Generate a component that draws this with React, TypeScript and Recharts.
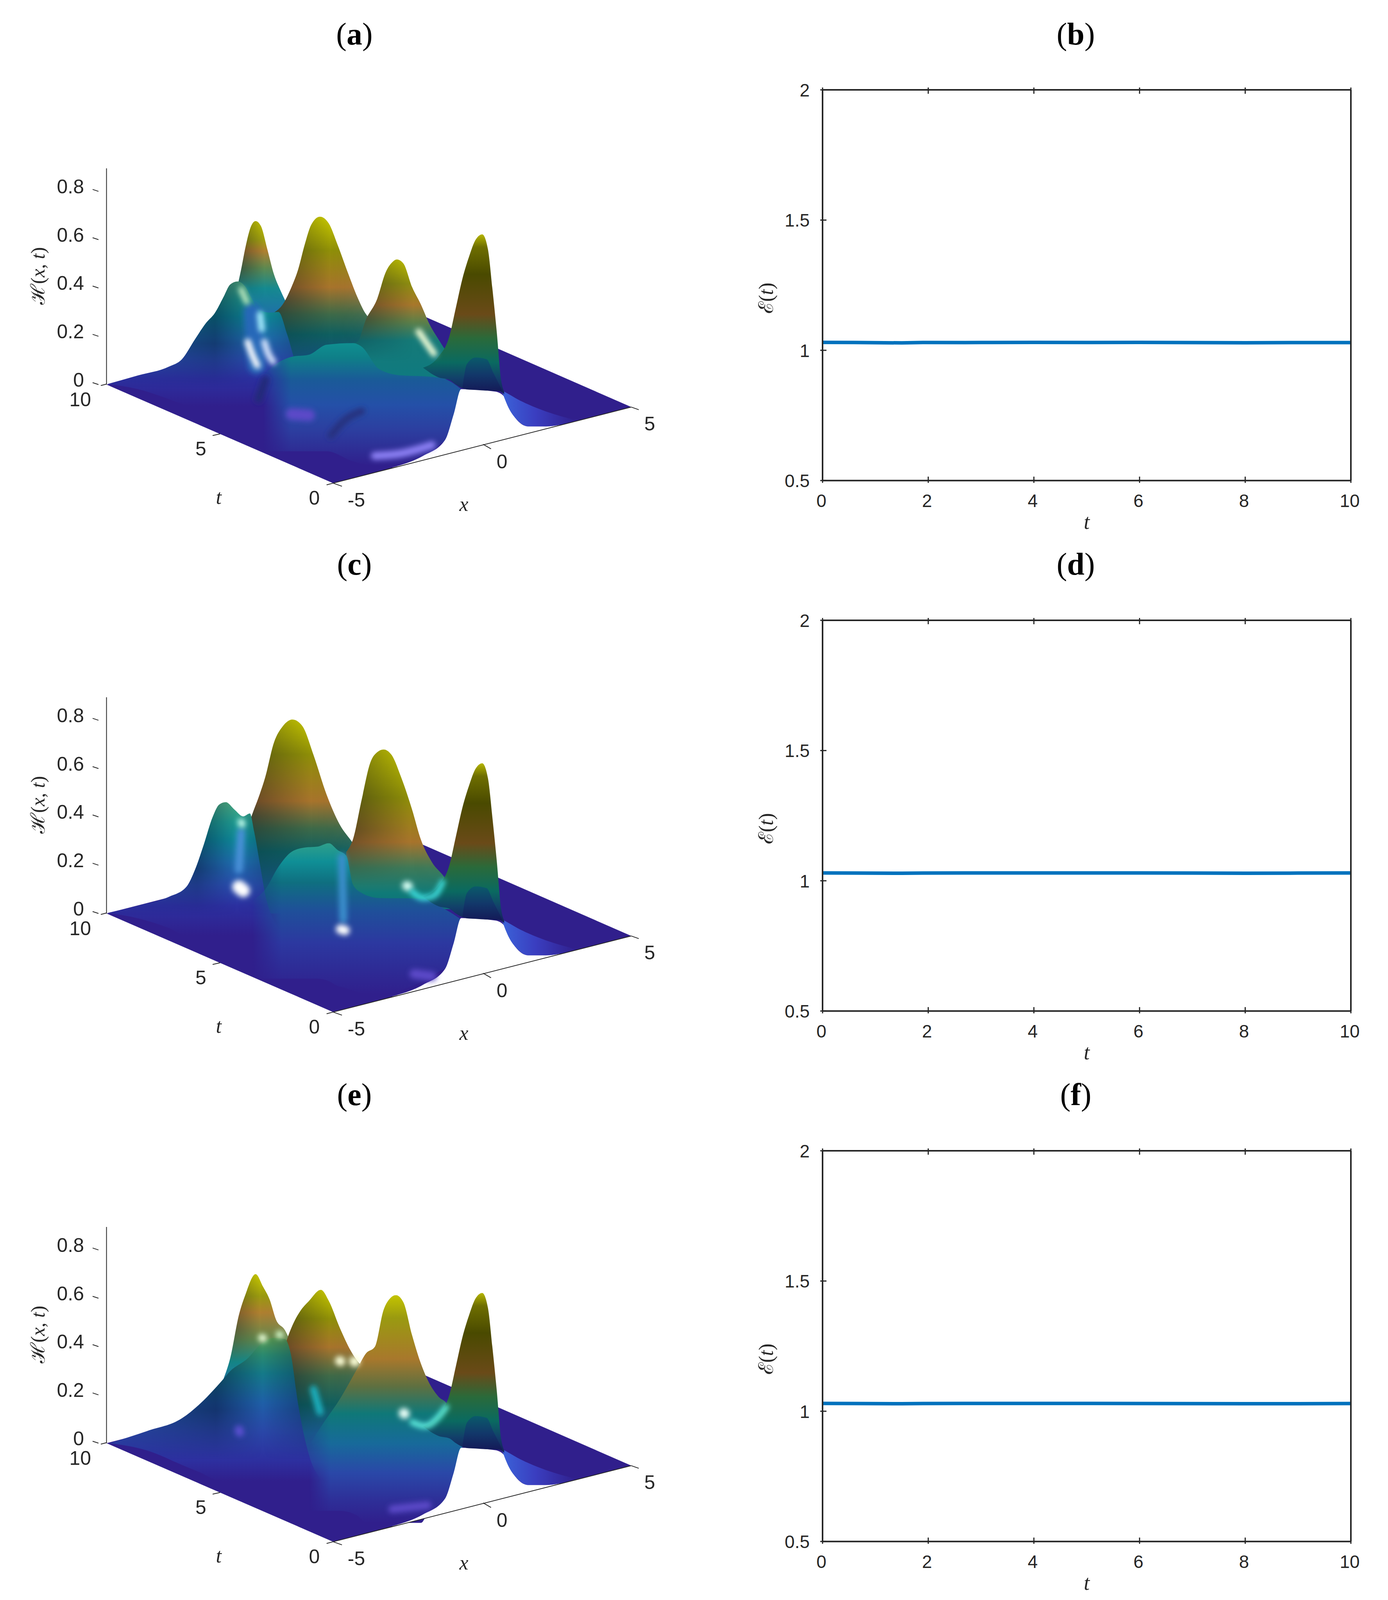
import { ComposedChart, Area, Line, LineChart, XAxis, YAxis, ReferenceDot } from 'recharts';

// ---- energy panels (b, d, f) ----
const timeSteps = [0, 0.6, 1.5, 1.9, 2.7, 3, 4, 5, 6, 7, 8, 9, 10];
const energyB = [1.0305, 1.03, 1.0285, 1.03, 1.0295, 1.03, 1.0305, 1.03, 1.0305, 1.0295, 1.029, 1.0298, 1.0295];
const energyD = [1.03, 1.0295, 1.029, 1.0295, 1.03, 1.03, 1.03, 1.03, 1.03, 1.0295, 1.029, 1.0295, 1.03];
const energyF = [1.03, 1.0295, 1.029, 1.0295, 1.03, 1.03, 1.03, 1.03, 1.0298, 1.0292, 1.029, 1.0288, 1.0295];
const timeTicks = [0, 2, 4, 6, 8, 10];
const energyTicks = [0.5, 1, 1.5, 2];
const heightTicks = [0, 0.2, 0.4, 0.6, 0.8];

// ---- surface panels: [screen u, lower H, upper H] ----
const floorPlane = [[228, 0, 0], [745, -0.408, 0.242], [908, -0.333, 0.318], [1425, -0.093, -0.093]];
const frontGap = [[880, -0.345, -0.343], [950, -0.313, -0.295], [1000, -0.29, -0.23], [1020, -0.28, -0.122], [1037, -0.273, -0.019], [1115, -0.236, -0.029], [1135, -0.227, -0.049], [1160, -0.215, -0.137], [1190, -0.202, -0.173], [1230, -0.184, -0.173], [1262, -0.168, -0.167]];
const frontPeak = [[950, 0.07, 0.07], [985, 0.03, 0.115], [1010, 0.02, 0.2], [1025, 0, 0.32], [1040, -0.015, 0.44], [1055, -0.02, 0.53], [1070, -0.02, 0.6], [1085, -0.02, 0.622], [1098, -0.025, 0.56], [1108, -0.025, 0.4], [1118, -0.025, 0.22], [1128, -0.03, 0.02], [1135, -0.04, -0.03]];
const frontArch = [[1040, -0.015, -0.01], [1050, -0.02, 0.085], [1070, -0.022, 0.112], [1095, -0.025, 0.105], [1110, -0.026, 0.05], [1130, -0.028, -0.022]];
const frontTail = [[1130, -0.029, -0.024], [1145, -0.096, -0.039], [1165, -0.147, -0.06], [1190, -0.173, -0.082], [1230, -0.173, -0.111], [1300, -0.15, -0.148]];

const aBackPeak = [[525, 0.29, 0.394], [535, 0.29, 0.476], [545, 0.29, 0.569], [558, 0.29, 0.657], [568, 0.29, 0.677], [580, 0.29, 0.657], [595, 0.29, 0.559], [610, 0.29, 0.456], [625, 0.29, 0.389], [640, 0.29, 0.332]];
const aSecondPeak = [[610, 0, 0.298], [630, 0, 0.332], [650, 0, 0.404], [665, 0, 0.476], [680, 0, 0.579], [695, 0, 0.662], [715, 0, 0.695], [735, 0, 0.667], [755, 0, 0.579], [780, 0, 0.456], [800, 0, 0.363], [820, 0, 0.291], [840, 0, 0.26]];
const aLeftLump = [[230, 0.002, 0.002], [300, -0.019, 0.038], [370, -0.06, 0.074], [400, -0.08, 0.105], [430, -0.09, 0.188], [455, -0.09, 0.255], [475, -0.09, 0.296], [495, -0.09, 0.363], [510, -0.09, 0.414], [527, -0.09, 0.427], [545, -0.09, 0.404], [560, -0.09, 0.353], [575, -0.09, 0.311], [600, -0.09, 0.298], [620, -0.09, 0.301], [640, -0.09, 0.208], [660, -0.09, 0.085], [690, -0.09, -0.02], [720, -0.09, -0.088]];
const aThirdPeak = [[790, 0.023, 0.172], [800, 0.023, 0.177], [820, 0.023, 0.27], [845, 0.023, 0.353], [865, 0.023, 0.466], [880, 0.023, 0.507], [890, 0.023, 0.518], [905, 0.023, 0.502], [925, 0.023, 0.404], [945, 0.023, 0.332], [965, 0.023, 0.249], [985, 0.023, 0.188], [1000, 0.023, 0.146], [1015, 0.023, 0.115], [1040, 0.023, 0.085]];
const aBody = [[585, -0.276, 0.038], [610, -0.276, 0.079], [650, -0.276, 0.115], [690, -0.276, 0.124], [730, -0.276, 0.165], [790, -0.318, 0.172], [810, -0.328, 0.157], [850, -0.338, 0.064], [900, -0.328, 0.038], [965, -0.287, 0.033], [1000, -0.235, 0.023], [1037, -0.225, -0.019]];

const cBigPeak = [[540, 0, 0.3], [560, 0, 0.409], [575, 0, 0.481], [590, 0, 0.564], [610, 0, 0.708], [630, 0, 0.775], [652, 0, 0.803], [675, 0, 0.775], [700, 0, 0.657], [730, 0, 0.492], [760, 0, 0.368], [790, 0, 0.291], [820, 0, 0.2]];
const cLeftLump = [[230, 0.002, 0.002], [300, -0.02, 0.033], [370, -0.06, 0.069], [410, -0.09, 0.11], [430, -0.09, 0.182], [450, -0.09, 0.286], [470, -0.09, 0.399], [485, -0.09, 0.451], [500, -0.09, 0.461], [520, -0.09, 0.43], [540, -0.09, 0.402], [555, -0.09, 0.414], [565, -0.09, 0.337], [578, -0.09, 0.203], [590, -0.09, 0.079], [610, -0.09, -0.03], [640, -0.09, -0.088]];
const cThirdPeak = [[775, 0.018, 0.255], [790, 0.018, 0.306], [810, 0.018, 0.471], [830, 0.018, 0.626], [845, 0.018, 0.667], [860, 0.018, 0.679], [878, 0.018, 0.657], [900, 0.018, 0.564], [925, 0.018, 0.43], [945, 0.018, 0.306], [970, 0.018, 0.213], [1000, 0.018, 0.146], [1020, 0.018, 0.079], [1040, 0.018, 0.02]];
const cBody = [[560, -0.26, 0.054], [590, -0.27, 0.1], [620, -0.27, 0.193], [650, -0.27, 0.255], [680, -0.27, 0.273], [710, -0.27, 0.277], [735, -0.28, 0.291], [755, -0.3, 0.263], [775, -0.31, 0.239], [790, -0.32, 0.12], [810, -0.33, 0.085], [850, -0.335, 0.064], [950, -0.28, 0.062], [1000, -0.23, 0.018], [1037, -0.22, -0.024]];

const eBackPeak = [[495, 0.245, 0.267], [510, 0.245, 0.351], [530, 0.245, 0.531], [545, 0.245, 0.616], [568, 0.245, 0.7], [585, 0.245, 0.648], [600, 0.245, 0.595], [615, 0.245, 0.51], [635, 0.245, 0.468], [645, 0.245, 0.431]];
const eSecondPeak = [[620, -0.157, 0.3], [640, -0.157, 0.431], [655, -0.157, 0.499], [670, -0.157, 0.547], [690, -0.157, 0.589], [717, -0.157, 0.635], [735, -0.157, 0.589], [760, -0.157, 0.478], [785, -0.157, 0.383], [800, -0.157, 0.341], [830, -0.157, 0.3]];
const eMidRidge = [[235, 0, 0], [320, -0.03, 0.05], [400, -0.09, 0.103], [440, -0.12, 0.161], [490, -0.157, 0.256], [510, -0.157, 0.298], [550, -0.157, 0.351], [580, -0.157, 0.41], [610, -0.157, 0.436], [635, -0.157, 0.431], [648, -0.157, 0.372], [665, -0.157, 0.161], [690, -0.157, -0.05], [720, -0.157, -0.155]];
const eThirdPeak = [[690, -0.28, -0.008], [720, -0.28, 0.076], [760, -0.28, 0.182], [800, -0.3, 0.309], [820, -0.33, 0.372], [840, -0.33, 0.399], [860, -0.33, 0.552], [875, -0.33, 0.6], [888, -0.33, 0.613], [905, -0.33, 0.584], [925, -0.33, 0.447], [945, -0.33, 0.33], [965, -0.28, 0.246], [985, -0.27, 0.193], [1005, -0.25, 0.161], [1020, -0.23, 0.097], [1040, -0.22, -0.008]];

// ---- light spots and creases on the surfaces: [u, H] ----
const aSpots = [
  { pts: [[560, 0.3], [570, 0.08]], color: '#2868b8', width: 44 },
  { pts: [[550, 0.177], [560, 0.126], [572, 0.079]], color: '#ffffff', width: 16 },
  { pts: [[588, 0.177], [595, 0.136], [608, 0.095]], color: '#dce8ff', width: 16 },
  { pts: [[578, 0.291], [582, 0.229]], color: '#a8f0ff', width: 16 },
  { pts: [[535, 0.394], [548, 0.342]], color: '#c0ecc0', width: 14 },
  { pts: [[940, 0.219], [958, 0.172], [975, 0.128]], color: '#f4ffd8', width: 16 },
  { pts: [[840, -0.295], [900, -0.285], [970, -0.25]], color: '#8c80f4', width: 20 },
  { pts: [[650, -0.122], [690, -0.127]], color: '#5c4ac8', width: 30 },
  { pts: [[575, -0.06], [590, 0.02]], color: '#232a78', width: 20 },
  { pts: [[740, -0.21], [770, -0.15], [810, -0.11]], color: '#25307e', width: 18 },
];
const cSpots = [
  { pts: [[530, 0.182], [535, 0.337]], color: '#4a90d8', width: 20 },
  { pts: [[530, 0.11], [540, 0.095]], color: '#ffffff', width: 34 },
  { pts: [[535, 0.378], [537, 0.37]], color: '#c8fff0', width: 18 },
  { pts: [[765, 0.234], [768, -0.024]], color: '#3a8ecc', width: 20 },
  { pts: [[762, -0.065], [772, -0.07]], color: '#ffffff', width: 24 },
  { pts: [[913, 0.115], [916, 0.112]], color: '#d8fff4', width: 24 },
  { pts: [[925, 0.09], [950, 0.064], [975, 0.074], [995, 0.131]], color: '#40e0e0', width: 14 },
  { pts: [[930, -0.25], [970, -0.26]], color: '#5c4ac8', width: 24 },
];
const eSpots = [
  { pts: [[583, 0.436], [585, 0.434]], color: '#eaffd8', width: 20 },
  { pts: [[622, 0.45], [624, 0.448]], color: '#d8ffd0', width: 18 },
  { pts: [[760, 0.341], [762, 0.339]], color: '#fbffd8', width: 24 },
  { pts: [[793, 0.339], [795, 0.338]], color: '#fbffd8', width: 26 },
  { pts: [[906, 0.124], [908, 0.122]], color: '#eafff8', width: 26 },
  { pts: [[925, 0.087], [955, 0.071], [985, 0.108], [1003, 0.15]], color: '#60f0e0', width: 14 },
  { pts: [[700, 0.224], [715, 0.129]], color: '#1fb0c0', width: 18 },
  { pts: [[530, 0.055], [532, 0.045]], color: '#5a50d0', width: 22 },
  { pts: [[880, -0.273], [960, -0.257]], color: '#5c4ac8', width: 20 },
];

// ---- axes drawn on the floor ----
const heightAxis = [[228, 0], [228, 0.895]];
const xEdge = [[745, -0.408], [1425, -0.093]];
const floorTicks = [
  [[215, -0.004], [228, 0.002]],
  [[470, -0.211], [487, -0.204]],
  [[730, -0.415], [745, -0.408]],
  [[745, -0.408], [765, -0.421]],
  [[1087, -0.247], [1105, -0.266]],
  [[1425, -0.093], [1442, -0.104]],
];
const floorLabels = [
  { u: 168, h: -0.062, text: '10' },
  { u: 443, h: -0.266, text: '5' },
  { u: 702, h: -0.469, text: '0' },
  { u: 798, h: -0.477, text: '-5' },
  { u: 1130, h: -0.32, text: '0' },
  { u: 1467, h: -0.163, text: '5' },
];
const floorTitles = [
  { u: 484, h: -0.472, text: 't' },
  { u: 1043, h: -0.5, text: 'x' },
];

const ramps: Record<string, [number, string][]> = {
  aBack: [[0, '#c4c400'], [0.2, '#a0a010'], [0.32, '#b08030'], [0.5, '#5f8a50'], [0.72, '#158a90'], [1, '#1f70a8']],
  aSecond: [[0, '#c8c800'], [0.2, '#8f8f08'], [0.42, '#a8742c'], [0.58, '#3f6a48'], [0.7, '#0f5f60'], [0.85, '#14507a'], [1, '#1c3f88']],
  aThird: [[0, '#c4c400'], [0.2, '#8f8f10'], [0.38, '#a8782c'], [0.52, '#5f8048'], [0.68, '#157a78'], [1, '#0f7a80']],
  lump: [[0, '#4aa880'], [0.15, '#1f9a90'], [0.28, '#0f8a9a'], [0.45, '#1f70b0'], [0.62, '#2a50b0'], [0.78, '#2c30a0'], [1, '#301f8c']],
  aBody: [[0, '#0f8f90'], [0.12, '#0f7f88'], [0.3, '#1a5a98'], [0.5, '#2450a8'], [0.7, '#2c3fa0'], [1, '#301f8c']],
  cBig: [[0, '#c8c800'], [0.18, '#8f8f08'], [0.42, '#a8742c'], [0.56, '#3f6a48'], [0.68, '#0f5f60'], [0.85, '#14507a'], [1, '#1c3f88']],
  cThird: [[0, '#c8c800'], [0.3, '#8f8f08'], [0.58, '#a8742c'], [0.74, '#3f7a58'], [0.9, '#0f7a78'], [1, '#0f6f7a']],
  cBody: [[0, '#2f9f8a'], [0.12, '#0f8f96'], [0.26, '#0f6f80'], [0.45, '#1f4f9a'], [0.66, '#2c38a0'], [1, '#301f8c']],
  eBack: [[0, '#c8c800'], [0.2, '#9a9a10'], [0.35, '#b08030'], [0.6, '#5f8a50'], [0.8, '#158a8a'], [1, '#1f6aa0']],
  eSecond: [[0, '#c8c800'], [0.15, '#8f8f08'], [0.3, '#a8742c'], [0.45, '#3f6a48'], [0.6, '#0f5f60'], [0.75, '#1a5a90'], [0.9, '#2a40a0'], [1, '#301f8c']],
  eMid: [[0, '#5a9a50'], [0.12, '#2a8a70'], [0.25, '#157a8a'], [0.45, '#1f60a8'], [0.65, '#2a48a8'], [0.85, '#2d30a0'], [1, '#301f8c']],
  eThird: [[0, '#c4c400'], [0.1, '#9a9a10'], [0.28, '#a8782c'], [0.4, '#5f7040'], [0.52, '#0f7878'], [0.65, '#176a9a'], [0.78, '#2a48a8'], [0.9, '#2e2f98'], [1, '#301f8c']],
  front: [[0, '#b5b500'], [0.08, '#6e6e00'], [0.25, '#4a4a00'], [0.5, '#6a4a18'], [0.65, '#2a6a3a'], [0.8, '#0a6a60'], [0.9, '#12406a'], [1, '#141e5a']],
  arch: [[0, '#0a5a6a'], [0.5, '#12386a'], [1, '#141a58']],
};

const aLayers = [
  { pts: aBackPeak, ramp: 'aBack', over: 'shade' },
  { pts: aSecondPeak, ramp: 'aSecond', over: 'shade' },
  { pts: aLeftLump, ramp: 'lump', over: 'edges' },
  { pts: aThirdPeak, ramp: 'aThird', over: 'shade' },
  { pts: aBody, ramp: 'aBody', soft: true },
];
const cLayers = [
  { pts: cBigPeak, ramp: 'cBig', over: 'shade' },
  { pts: cLeftLump, ramp: 'lump', over: 'edges' },
  { pts: cThirdPeak, ramp: 'cThird', over: 'shade' },
  { pts: cBody, ramp: 'cBody', soft: true },
];
const eLayers = [
  { pts: eBackPeak, ramp: 'eBack', over: 'shade' },
  { pts: eSecondPeak, ramp: 'eSecond', over: 'shade' },
  { pts: eMidRidge, ramp: 'eMid', over: 'edges' },
  { pts: eThirdPeak, ramp: 'eThird', soft: true },
];

const INK = '#262626';
const SANS = '"Liberation Sans", Arial, sans-serif';
const SERIF = '"Liberation Serif", "DejaVu Serif", serif';

// the browser window can come up shorter than the reference page, squeeze the layout to fit
const FIT = Math.min(1, window.innerHeight / 4345);

const bands = (pts: number[][]) => pts.map(([u, lo, hi]) => ({ u, range: [lo, hi] }));
const points = (pts: number[][]) => pts.map(([u, h]) => ({ u, h }));

function Gradients() {
  return (
    <svg width={0} height={0} style={{ position: 'absolute' }}>
      <defs>
        {Object.entries(ramps).map(([id, stops]) => (
          <linearGradient key={id} id={id} x1="0" y1="0" x2="0" y2="1">
            {stops.map(([o, c]) => (
              <stop key={o} offset={o} stopColor={c} />
            ))}
          </linearGradient>
        ))}
        <linearGradient id="shade" x1="0" y1="0" x2="1" y2="0">
          <stop offset={0} stopColor="#00001e" stopOpacity={0.42} />
          <stop offset={0.55} stopColor="#00001e" stopOpacity={0} />
          <stop offset={1} stopColor="#ffffff" stopOpacity={0.08} />
        </linearGradient>
        <linearGradient id="edges" x1="0" y1="0" x2="1" y2="0">
          <stop offset={0} stopColor="#00001e" stopOpacity={0.1} />
          <stop offset={0.5} stopColor="#00001e" stopOpacity={0.42} />
          <stop offset={0.72} stopColor="#00001e" stopOpacity={0} />
          <stop offset={1} stopColor="#00102e" stopOpacity={0.45} />
        </linearGradient>
        <linearGradient id="tail" x1="0" y1="0" x2="1" y2="0">
          <stop offset={0} stopColor="#3b62d8" />
          <stop offset={0.45} stopColor="#3a3ec0" />
          <stop offset={1} stopColor="#301f8c" />
        </linearGradient>
        <linearGradient id="downFade" x1="0" y1="0" x2="0" y2="1">
          <stop offset={0} stopColor="#fff" />
          <stop offset={0.5} stopColor="#fff" />
          <stop offset={0.85} stopColor="#000" />
        </linearGradient>
        <linearGradient id="sideFade" x1="0" y1="0" x2="1" y2="0">
          <stop offset={0} stopColor="#000" />
          <stop offset={0.14} stopColor="#fff" />
        </linearGradient>
        <mask id="lowerFade" maskContentUnits="objectBoundingBox">
          <rect x={0} y={0} width={1} height={1} fill="url(#downFade)" />
        </mask>
        <mask id="leftFade" maskContentUnits="objectBoundingBox">
          <rect x={0} y={0} width={1} height={1} fill="url(#sideFade)" />
        </mask>
        <filter id="soft" filterUnits="userSpaceOnUse" x="0" y="0" width="1776" height="984">
          <feGaussianBlur stdDeviation="7" />
        </filter>
      </defs>
    </svg>
  );
}

function HeightTick({ x, y, payload }: any) {
  return (
    <g>
      <line x1={x} y1={y} x2={x - 15} y2={y - 5} stroke={INK} strokeWidth={2} />
      <text x={x - 37} y={y + 5} textAnchor="end" fontFamily={SANS} fontSize={50} fill={INK}>
        {payload.value}
      </text>
    </g>
  );
}

function SurfacePanel({ top, layers, spots }: any) {
  return (
    <div style={{ position: 'absolute', left: 0, top: top * FIT }}>
      <ComposedChart width={1776} height={984 * FIT} margin={{ top: 0, right: 0, bottom: 0, left: 0 }}>
        <XAxis dataKey="u" type="number" domain={[228, 1568]} hide />
        <YAxis
          type="number"
          dataKey="h"
          domain={[-0.6, 0.9]}
          width={258}
          ticks={heightTicks}
          interval={0}
          axisLine={false}
          tickLine={false}
          tickMargin={0}
          tick={<HeightTick />}
        />
        <Area data={bands(floorPlane)} dataKey="range" type="linear" stroke="none" fill="#301f8c" fillOpacity={1} dot={false} activeDot={false} isAnimationActive={false} />
        {layers.map((l: any) => [
          <Area key={l.ramp} data={bands(l.pts)} dataKey="range" type="monotone" stroke="none" fill={`url(#${l.ramp})`} fillOpacity={1} mask={l.soft ? 'url(#leftFade)' : undefined} dot={false} activeDot={false} isAnimationActive={false} />,
          l.over ? (
            <Area key={l.ramp + 'o'} data={bands(l.pts)} dataKey="range" type="monotone" stroke="none" fill={`url(#${l.over})`} fillOpacity={1} mask="url(#lowerFade)" dot={false} activeDot={false} isAnimationActive={false} />
          ) : null,
        ])}
        <Area data={bands(frontGap)} dataKey="range" type="monotone" stroke="none" fill="#ffffff" fillOpacity={1} dot={false} activeDot={false} isAnimationActive={false} />
        <Area data={bands(frontTail)} dataKey="range" type="monotone" stroke="none" fill="url(#tail)" fillOpacity={1} dot={false} activeDot={false} isAnimationActive={false} />
        <Area data={bands(frontPeak)} dataKey="range" type="monotone" stroke="none" fill="url(#front)" fillOpacity={1} dot={false} activeDot={false} isAnimationActive={false} />
        <Area data={bands(frontArch)} dataKey="range" type="monotone" stroke="none" fill="url(#arch)" fillOpacity={1} dot={false} activeDot={false} isAnimationActive={false} />
        {spots.map((s: any, i: number) => (
          <Line key={i} data={points(s.pts)} dataKey="h" type="monotone" stroke={s.color} strokeWidth={s.width} strokeLinecap="round" filter="url(#soft)" dot={false} activeDot={false} isAnimationActive={false} />
        ))}
        <Line data={points(heightAxis)} dataKey="h" type="linear" stroke={INK} strokeWidth={2} dot={false} activeDot={false} isAnimationActive={false} />
        <Line data={points(xEdge)} dataKey="h" type="linear" stroke={INK} strokeWidth={2} dot={false} activeDot={false} isAnimationActive={false} />
        {floorTicks.map((t, i) => (
          <Line key={i} data={points(t)} dataKey="h" type="linear" stroke={INK} strokeWidth={2} dot={false} activeDot={false} isAnimationActive={false} />
        ))}
        {floorLabels.map((l) => (
          <ReferenceDot
            key={l.u}
            x={l.u}
            y={l.h}
            ifOverflow="visible"
            shape={(p: any) => (
              <text x={p.cx} y={p.cy + 17} textAnchor="middle" fontFamily={SANS} fontSize={50} fill={INK}>
                {l.text}
              </text>
            )}
          />
        ))}
        {floorTitles.map((l) => (
          <ReferenceDot
            key={l.u}
            x={l.u}
            y={l.h}
            ifOverflow="visible"
            shape={(p: any) => (
              <text x={p.cx} y={p.cy + 14} textAnchor="middle" fontFamily={SERIF} fontStyle="italic" fontSize={52} fill={INK}>
                {l.text}
              </text>
            )}
          />
        ))}
        <ReferenceDot
          x={85}
          y={0.45}
          ifOverflow="visible"
          shape={(p: any) => (
            <text transform={`translate(${p.cx + 2},${p.cy}) rotate(-90)`} textAnchor="middle" fontFamily={SERIF} fontSize={50} fill={INK}>
              ℋ(<tspan fontStyle="italic">x</tspan>, <tspan fontStyle="italic">t</tspan>)
            </text>
          )}
        />
      </ComposedChart>
    </div>
  );
}

function BottomTick({ x, y, payload }: any) {
  return (
    <g>
      <line x1={x} y1={y} x2={x} y2={y - 16} stroke={INK} strokeWidth={3} />
      <text x={x - 3} y={y + 62} textAnchor="middle" fontFamily={SANS} fontSize={46} fill={INK}>
        {payload.value}
      </text>
    </g>
  );
}
const TopTick = ({ x, y }: any) => <line x1={x} y1={y} x2={x} y2={y + 16} stroke={INK} strokeWidth={3} />;
function LeftTick({ x, y, payload }: any) {
  return (
    <g>
      <line x1={x} y1={y} x2={x + 16} y2={y} stroke={INK} strokeWidth={3} />
      <text x={x - 27} y={y + 17} textAnchor="end" fontFamily={SANS} fontSize={46} fill={INK}>
        {payload.value}
      </text>
    </g>
  );
}
const RightTick = ({ x, y }: any) => <line x1={x} y1={y} x2={x - 16} y2={y} stroke={INK} strokeWidth={3} />;

function EnergyPanel({ top, values }: any) {
  const rows = timeSteps.map((t, i) => ({ t, e: values[i] }));
  const axisLine = { stroke: INK, strokeWidth: 4 };
  return (
    <div style={{ position: 'absolute', left: 1905, top: top * FIT - 40 }}>
      <LineChart width={1640} height={40 + (1061 + 150) * FIT} data={rows} margin={{ top: 0, right: 0, bottom: 0, left: 0 }}>
        <XAxis dataKey="t" type="number" domain={[0, 10]} ticks={timeTicks} interval={0} height={150 * FIT} axisLine={axisLine} tickLine={false} tickMargin={0} tick={<BottomTick />} />
        <XAxis xAxisId="top" orientation="top" dataKey="t" type="number" domain={[0, 10]} ticks={timeTicks} interval={0} height={40} axisLine={axisLine} tickLine={false} tickMargin={0} tick={<TopTick />} />
        <YAxis type="number" domain={[0.5, 2]} ticks={energyTicks} interval={0} width={200} axisLine={axisLine} tickLine={false} tickMargin={0} tick={<LeftTick />} />
        <YAxis yAxisId="right" orientation="right" type="number" domain={[0.5, 2]} ticks={energyTicks} interval={0} width={88} axisLine={axisLine} tickLine={false} tickMargin={0} tick={<RightTick />} />
        <Line dataKey="e" type="linear" stroke="#0072BD" strokeWidth={9} dot={false} activeDot={false} isAnimationActive={false} />
        <ReferenceDot
          x={5}
          y={0.336}
          ifOverflow="visible"
          shape={(p: any) => (
            <text x={p.cx} y={p.cy + 14} textAnchor="middle" fontFamily={SERIF} fontStyle="italic" fontSize={54} fill={INK}>
              t
            </text>
          )}
        />
        <ReferenceDot
          x={-1.06}
          y={1.2}
          ifOverflow="visible"
          shape={(p: any) => (
            <text transform={`translate(${p.cx + 16},${p.cy}) rotate(-90)`} textAnchor="middle" fontFamily={SERIF} fontSize={52} fill={INK}>
              ℰ(<tspan fontStyle="italic">t</tspan>)
            </text>
          )}
        />
      </LineChart>
    </div>
  );
}

function PanelTitle({ x, y, letter }: any) {
  return (
    <div style={{ position: 'absolute', left: x - 150, top: y * FIT - 50, width: 300, height: 100, lineHeight: '100px', textAlign: 'center', fontFamily: SERIF, fontSize: 80, color: '#000' }}>
      (<b>{letter}</b>)
    </div>
  );
}

export default function App() {
  return (
    <div style={{ position: 'absolute', left: 0, top: 0, width: 3552, height: 4345 * FIT, background: '#fff', overflow: 'hidden' }}>
      <Gradients />
      <PanelTitle x={907} y={92} letter="a" />
      <PanelTitle x={2753} y={92} letter="b" />
      <PanelTitle x={907} y={1532} letter="c" />
      <PanelTitle x={2753} y={1532} letter="d" />
      <PanelTitle x={907} y={2972} letter="e" />
      <PanelTitle x={2753} y={2972} letter="f" />
      <SurfacePanel top={454} layers={aLayers} spots={aSpots} />
      <SurfacePanel top={1890} layers={cLayers} spots={cSpots} />
      <SurfacePanel top={3329} layers={eLayers} spots={eSpots} />
      <EnergyPanel top={244} values={energyB} />
      <EnergyPanel top={1685} values={energyD} />
      <EnergyPanel top={3125} values={energyF} />
    </div>
  );
}
